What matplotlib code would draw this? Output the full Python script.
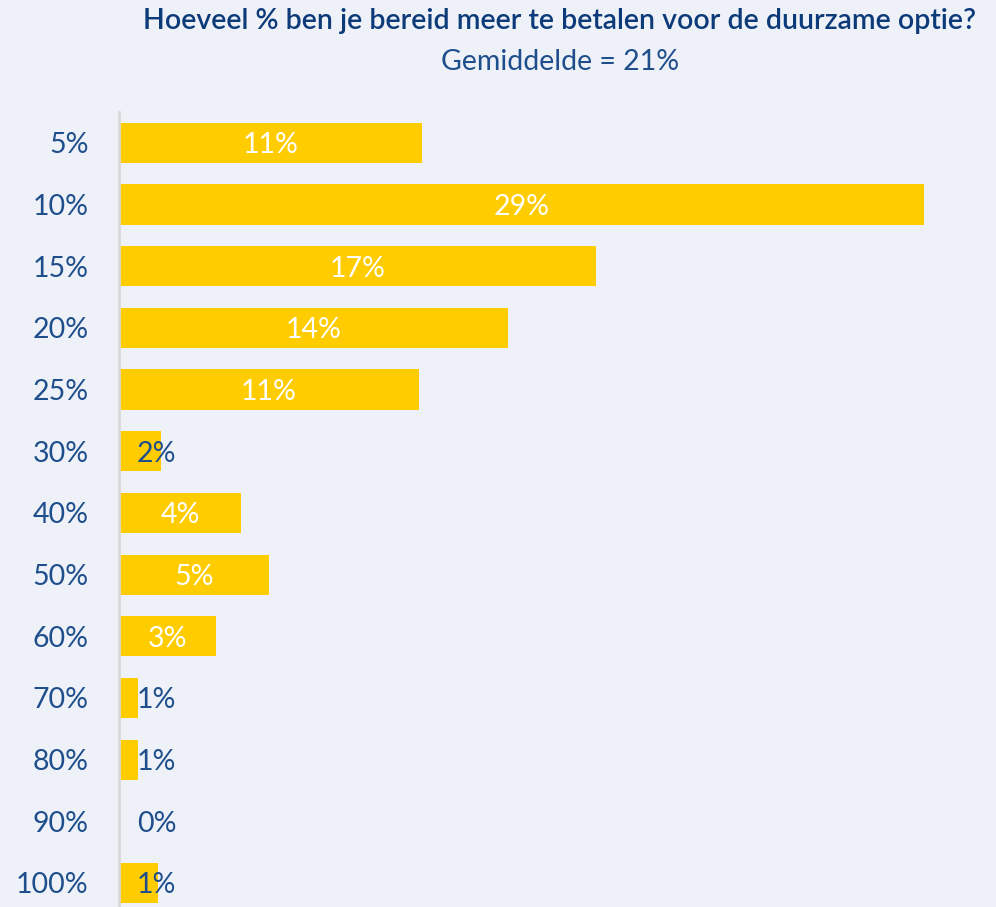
import matplotlib.pyplot as plt

# categorieën en waarden (aandeel respondenten, %)
categories = ['5%', '10%', '15%', '20%', '25%', '30%', '40%', '50%', '60%', '70%', '80%', '90%', '100%']
values = [10.9, 29.0, 17.2, 14.0, 10.8, 1.5, 4.4, 5.4, 3.5, 0.7, 0.7, 0.0, 1.4]
labels = ['11%', '29%', '17%', '14%', '11%', '2%', '4%', '5%', '3%', '1%', '1%', '0%', '1%']

bg = '#EEF2F8'
navy = '#1F4E8C'
yellow = '#FFCC00'

plt.rcParams['font.family'] = ['Lato', 'DejaVu Sans']

fig = plt.figure(figsize=(9.96, 9.07), dpi=100, facecolor=bg)
ax = fig.add_axes([119 / 996, 0, 1 - 119 / 996, 1 - 112 / 907])
ax.set_facecolor(bg)

y = list(range(len(categories)))
ax.barh(y, values, height=0.65, color=yellow)

# labels: wit in de balk, donkerblauw bij kleine balken
for yi, v, lab in zip(y, values, labels):
    if v >= 3:
        ax.text(v / 2, yi, lab, ha='center', va='center_baseline', color='white', fontsize=20.5)
    else:
        ax.text(1.35, yi, lab, ha='center', va='center_baseline', color=navy, fontsize=20.5)

ax.set_xlim(0, 31.6)
ax.set_ylim(12.39, -0.5)
ax.set_yticks(y)
ax.set_yticklabels(categories, fontsize=20.5, color=navy)
ax.tick_params(axis='y', length=0, pad=22)
ax.set_xticks([])
for s in ['top', 'right', 'bottom']:
    ax.spines[s].set_visible(False)
ax.spines['left'].set_color('#D9D9D9')
ax.spines['left'].set_linewidth(2)

fig.text(0.562, 0.977, 'Hoeveel % ben je bereid meer te betalen voor de duurzame optie?',
         ha='center', va='center', fontsize=20.5, fontweight='semibold', color='#0D3B7A')
fig.text(0.562, 0.932, 'Gemiddelde = 21%', ha='center', va='center', fontsize=20.5, color=navy)

fig.savefig('out.png', dpi=100, facecolor=bg)
